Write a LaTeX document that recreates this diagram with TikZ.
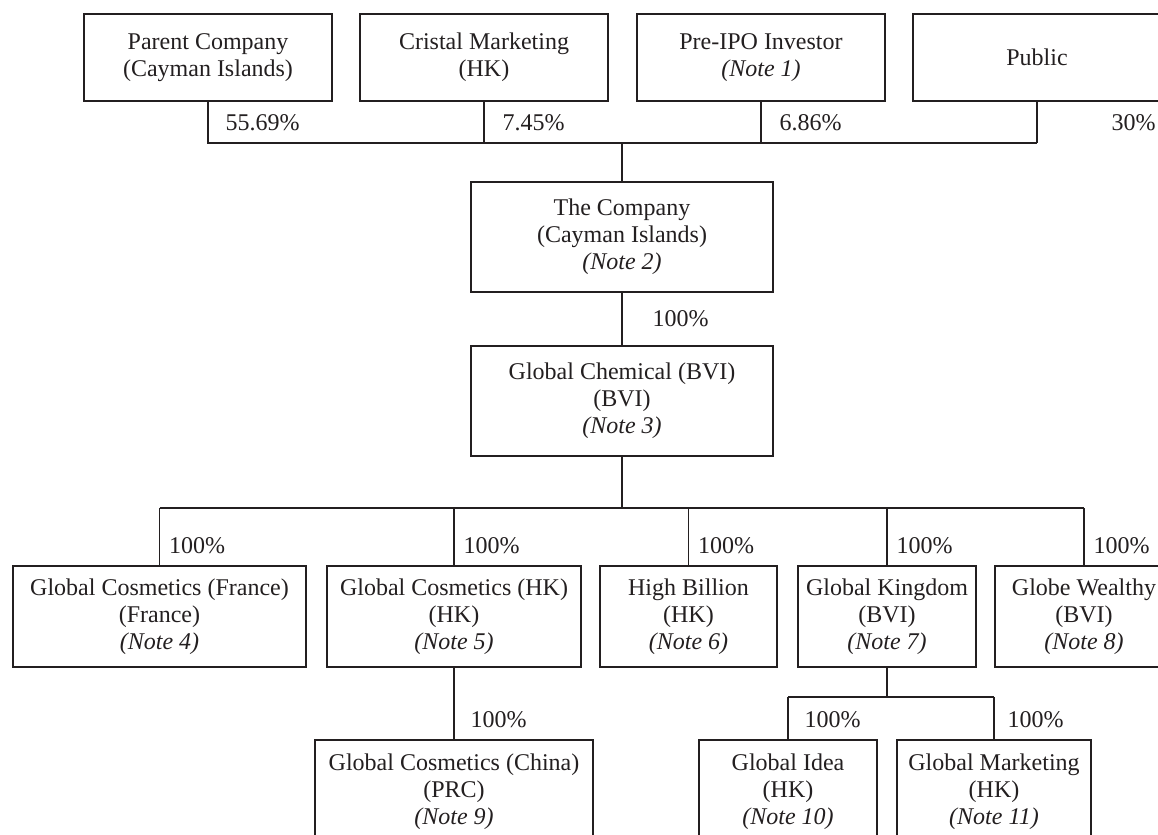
\documentclass[tikz,border=0pt]{standalone}
\usepackage{fontspec}
\setmainfont{Liberation Serif}
\usepackage{xcolor}
\usepackage{tikz}
\definecolor{orgInk}{HTML}{231F20}
\tikzset{
  org chart/.style={x=0.5pt, y=-0.5pt, font=\fontsize{12}{13.5}\selectfont,
    text=orgInk, line width=0.6pt},
  org box/.style 2 args={draw=orgInk, fill=white, align=center, inner sep=0pt,
    minimum width=#1*0.5pt, minimum height=#2*0.5pt},
  org line/.style={draw=orgInk},
  org pct/.style={anchor=west, inner sep=0pt, xshift=#1},
  org pct/.default=8pt
}

\begin{document}
\begin{tikzpicture}[org chart]
\useasboundingbox (0,0) rectangle (1158,835);
\fill[white] (0,0) rectangle (1158,835);
\clip (0,0) rectangle (1158,835);
% shareholders
\node[org box={248}{87}] (parent) at (208,57.5) {Parent Company\\(Cayman Islands)};
\node[org box={248}{87}] (cristal) at (484,57.5) {Cristal Marketing\\(HK)};
\node[org box={248}{87}] (preipo) at (761,57.5) {Pre-IPO Investor\\\textit{(Note 1)}};
\node[org box={248}{87}] (public) at (1037,57.5) {Public};
% holding companies
\node[org box={302}{110}] (company) at (622,237) {The Company\\(Cayman Islands)\\\textit{(Note 2)}};
\node[org box={302}{110}] (chem) at (622,401) {Global Chemical (BVI)\\(BVI)\\\textit{(Note 3)}};
% subsidiaries
\node[org box={293}{101}] (gcfr) at (159.5,616.5) {Global Cosmetics (France)\\(France)\\\textit{(Note 4)}};
\node[org box={254}{101}] (gchk) at (454,616.5) {Global Cosmetics (HK)\\(HK)\\\textit{(Note 5)}};
\node[org box={177}{101}] (hibil) at (688.5,616.5) {High Billion\\(HK)\\\textit{(Note 6)}};
\node[org box={178}{101}] (gking) at (887,616.5) {Global Kingdom\\(BVI)\\\textit{(Note 7)}};
\node[org box={178}{101}] (gwealth) at (1084,616.5) {Globe Wealthy\\(BVI)\\\textit{(Note 8)}};
\node[org box={278}{103}] (gcchina) at (454,791.5) {Global Cosmetics (China)\\(PRC)\\\textit{(Note 9)}};
\node[org box={178}{103}] (gidea) at (788,791.5) {Global Idea\\(HK)\\\textit{(Note 10)}};
\node[org box={194}{103}] (gmkt) at (994,791.5) {Global Marketing\\(HK)\\\textit{(Note 11)}};

% top level
\coordinate (topbus) at (622,143);
\draw[org line] (parent.south) -- node[org pct=8.5pt]{55.69\%} (parent.south |- topbus)
  -- (public.south |- topbus);
\draw[org line] (cristal.south) -- node[org pct=9pt]{7.45\%} (cristal.south |- topbus);
\draw[org line] (preipo.south) -- node[org pct=9pt]{6.86\%} (preipo.south |- topbus);
\draw[org line] (public.south) -- node[org pct=37pt]{30\%} (public.south |- topbus);
\draw[org line] (topbus) -- (company.north);
\draw[org line] (company.south) -- node[org pct=15pt]{100\%} (chem.north);

% subsidiaries
\coordinate (midbus) at (622,508);
\draw[org line] (chem.south) -- (midbus);
\draw[org line] (gcfr.north |- midbus) -- (gwealth.north |- midbus);
\foreach \sub in {gcfr,gchk,hibil,gking,gwealth}
  \draw[org line] (\sub.north |- midbus) -- node[org pct=4.5pt, pos=0.65]{100\%} (\sub.north);
\draw[org line] (gchk.south) -- node[org pct, pos=0.73]{100\%} (gcchina.north);

\coordinate (lowbus) at (887,697);
\draw[org line] (gking.south) -- (lowbus);
\draw[org line] (gidea.north |- lowbus) -- (gmkt.north |- lowbus);
\draw[org line] (gidea.north |- lowbus) -- node[org pct, pos=0.53]{100\%} (gidea.north);
\draw[org line] (gmkt.north |- lowbus) -- node[org pct=6.5pt, pos=0.53]{100\%} (gmkt.north);
\end{tikzpicture}
\end{document}
